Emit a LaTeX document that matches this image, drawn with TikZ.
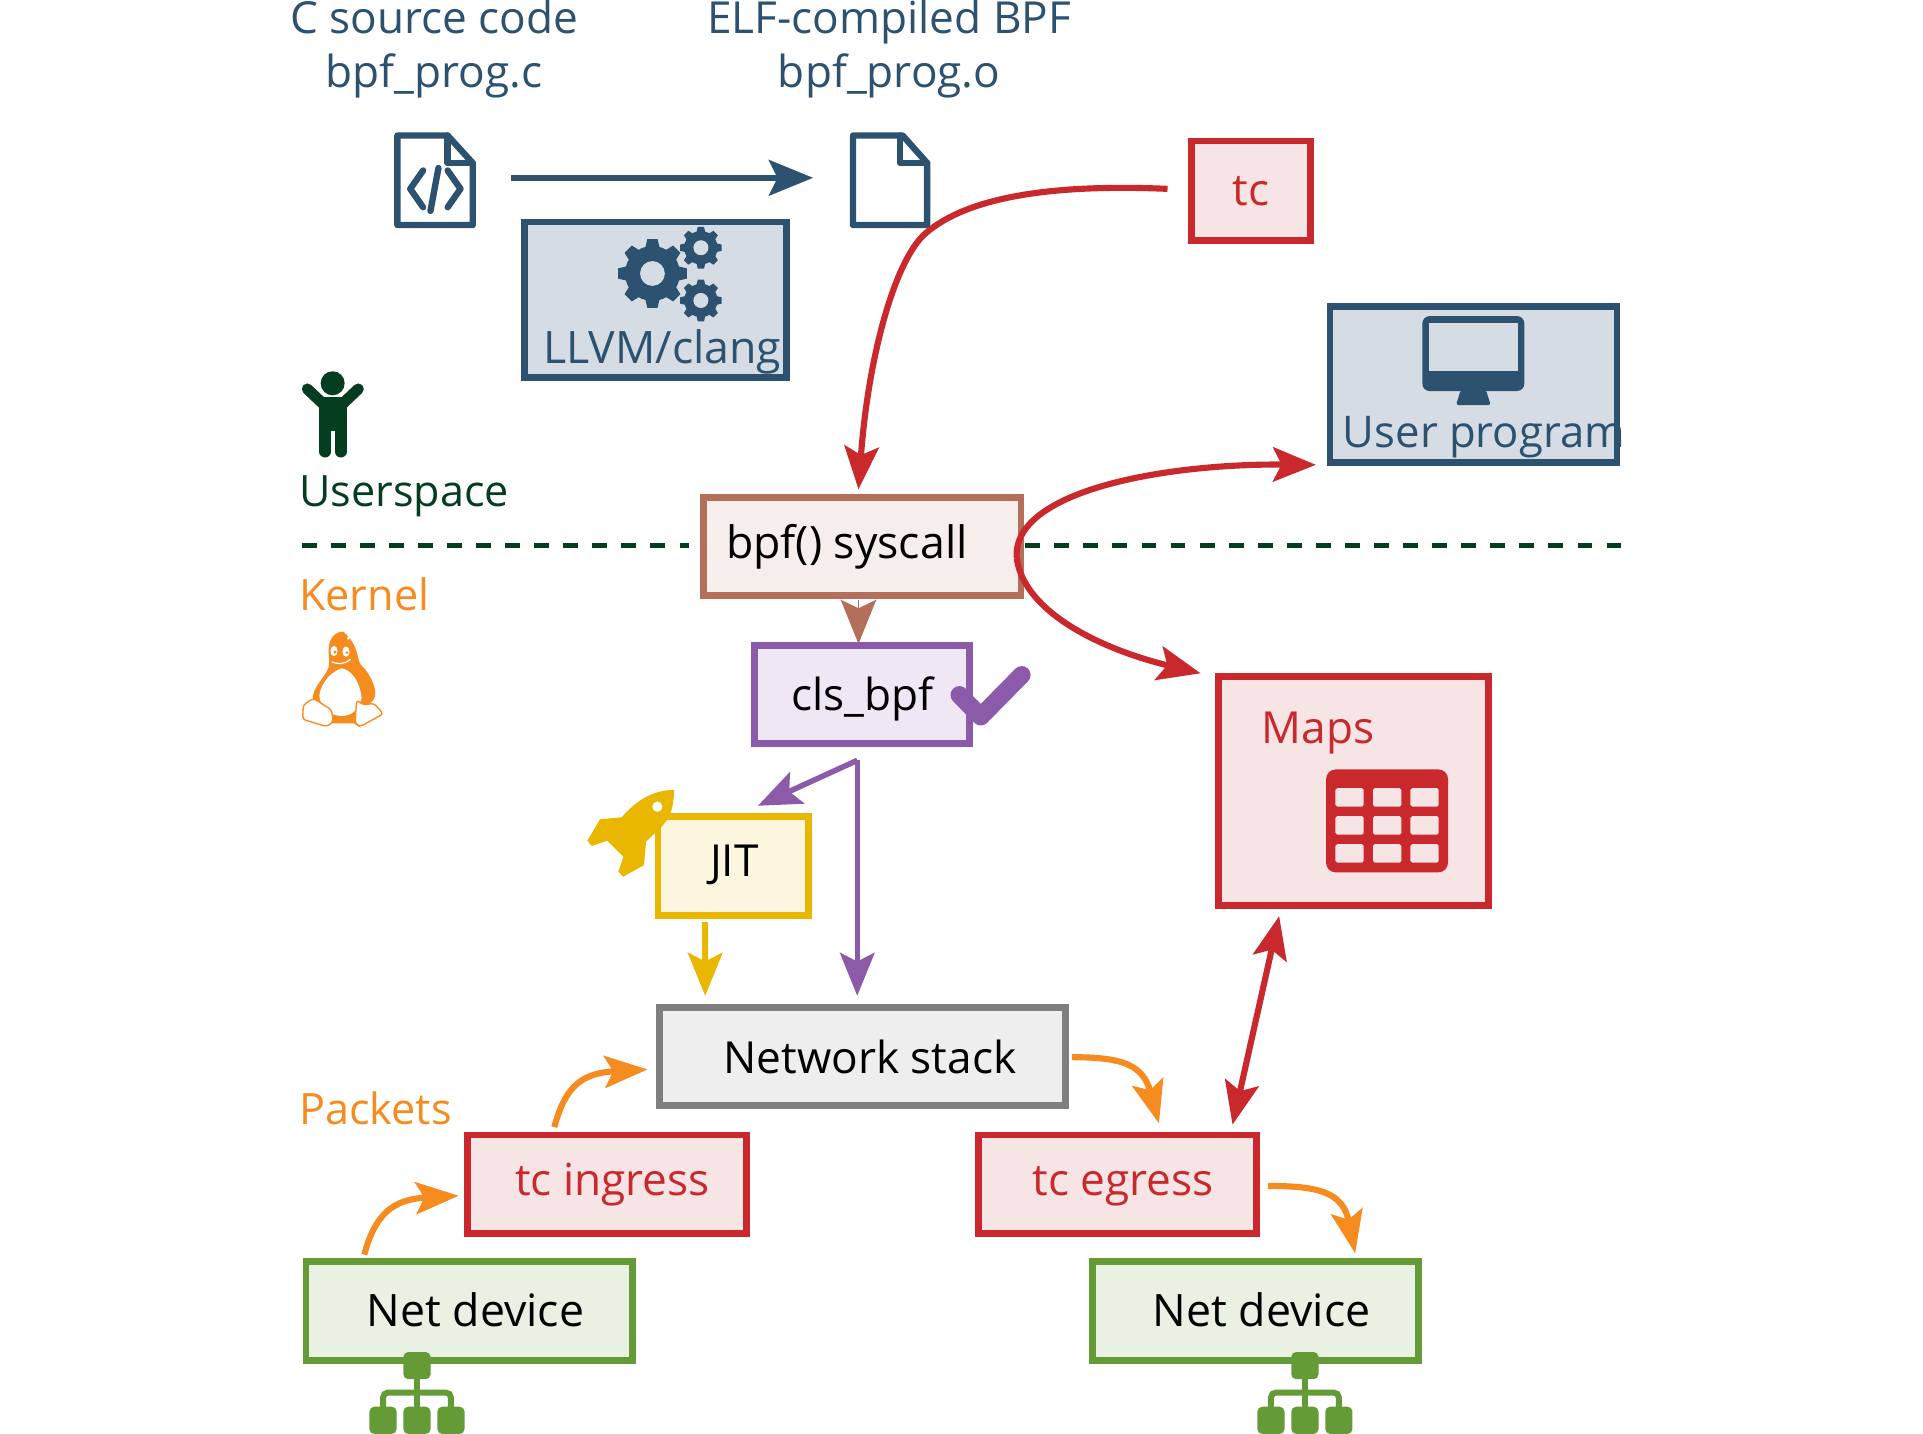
\documentclass[tikz,border=0pt]{standalone}
\usepackage{fontspec}
\setmainfont{Open Sans}
\usetikzlibrary{arrows.meta}
\definecolor{navy}{HTML}{2C5270}
\definecolor{navyf}{HTML}{D5DCE3}
\definecolor{redc}{HTML}{C9282D}
\definecolor{redf}{HTML}{F7E4E4}
\definecolor{brownc}{HTML}{B46F5A}
\definecolor{brownf}{HTML}{F6EEEB}
\definecolor{purp}{HTML}{8B5AA8}
\definecolor{purpf}{HTML}{EFE8F4}
\definecolor{yel}{HTML}{EAB700}
\definecolor{yelf}{HTML}{FCF6DF}
\definecolor{grayc}{HTML}{7F7F7F}
\definecolor{grayf}{HTML}{EEEEEE}
\definecolor{grn}{HTML}{649B37}
\definecolor{grnf}{HTML}{E9F1E3}
\definecolor{orng}{HTML}{F68B1F}
\definecolor{dgrn}{HTML}{053D21}
\tikzset{
  box/.style n args={2}{draw=#1,fill=#2,line width=5.6pt,inner sep=0pt,outer sep=0pt},
  txt/.style={inner sep=0pt,outer sep=0pt,font=\fontsize{36}{43}\selectfont},
  txtb/.style={inner sep=0pt,outer sep=0pt,font=\fontsize{36.4}{43}\selectfont},
  txts/.style={inner sep=0pt,outer sep=0pt,font=\fontsize{35.2}{42}\selectfont},
  tl/.style={txt,anchor=base west},
  tlb/.style={txtb,anchor=base west},
  tls/.style={txts,anchor=base west},
  tc/.style={txt,anchor=base},
  gearico/.pic={
    \foreach \a in {0,45,...,315}
      \fill[rotate=\a] ({.70*#1},{-.22*#1}) -- (#1,{-.15*#1}) -- (#1,{.15*#1}) -- ({.70*#1},{.22*#1}) -- cycle;
    \fill (0,0) circle ({.80*#1});
    \fill[navyf] (0,0) circle ({.36*#1});
  },
  netico/.pic={
    \fill[rounded corners=4pt] (-11.1,-11.1) rectangle (11.1,11.1);
    \fill[rounded corners=4pt] (-38.8,33.5) rectangle (-16.6,55.7);
    \fill[rounded corners=4pt] (-11.1,33.5) rectangle (11.1,55.7);
    \fill[rounded corners=4pt] (16.6,33.5) rectangle (38.8,55.7);
    \draw[line width=4.9pt] (0,10) -- (0,40);
    \draw[line width=4.9pt,rounded corners=4pt] (-27.7,40) -- (-27.7,22) -- (27.7,22) -- (27.7,40);
  },
  arrN/.style={-{Stealth[length=36pt,width=29pt,inset=7pt]}},
  arrR/.style={line width=5pt,draw=redc,{Stealth[length=35pt,width=28pt,inset=7pt]}-{Stealth[length=35pt,width=28pt,inset=7pt]}},
  arrRs/.style={line width=5pt,draw=redc,-{Stealth[length=35pt,width=28pt,inset=7pt]}},
  arrO/.style={line width=5pt,draw=orng,-{Stealth[length=35pt,width=26pt,inset=7pt]}},
}
\begin{document}
\begin{tikzpicture}[x=1pt,y=-1pt]
\useasboundingbox (0,0) rectangle (1568,1169);

% boxes
\node[box={navy}{navyf},minimum width=213pt,minimum height=127pt] (llvm) at (534.5,244.5) {};
\node[box={redc}{redf},minimum width=97pt,minimum height=81pt,txt,text=redc] (tcbox) at (1020,155.5) {tc};
\node[box={navy}{navyf},minimum width=234pt,minimum height=127pt] (user) at (1201.5,313.5) {};
\node[box={brownc}{brownf},minimum width=259pt,minimum height=80pt] (sys) at (703,445.5) {};
\node[box={purp}{purpf},minimum width=175pt,minimum height=80pt] (cls) at (703,566.5) {};
\node[box={yel}{yelf},minimum width=123pt,minimum height=81pt] (jit) at (598,706) {};
\node[box={grayc}{grayf},minimum width=331pt,minimum height=80pt] (net) at (703,861.5) {};
\node[box={redc}{redf},minimum width=227pt,minimum height=80pt] (ing) at (495,965.5) {};
\node[box={redc}{redf},minimum width=227pt,minimum height=80pt] (egr) at (911,965.5) {};
\node[box={redc}{redf},minimum width=220pt,minimum height=187pt] (maps) at (1103.5,645) {};
\node[box={grn}{grnf},minimum width=266pt,minimum height=81pt] (nd1) at (382.5,1069) {};
\node[box={grn}{grnf},minimum width=266pt,minimum height=81pt] (nd2) at (1023.5,1069) {};

% labels
\node[tc,text=navy] (srcA) at (354,27) {C source code};
\node[tc,text=navy] (srcB) at (354,71) {bpf\_prog.c};
\node[tc,text=navy] (elfA) at (725,27) {ELF-compiled BPF};
\node[tc,text=navy] (elfB) at (725,71) {bpf\_prog.o};
\node[tlb,text=navy] (llvmT) at (443,296) {LLVM/clang};
\node[tl,text=navy,font=\fontsize{35.6}{43}\selectfont] (userT) at (1095,365) {User program};
\node[tlb,text=black] (sysT) at (592,455) {bpf() syscall};
\node[tl,text=black] (netT) at (590,875) {Network stack};
\node[tl,text=redc] (ingT) at (420,975) {tc ingress};
\node[tl,text=redc] (egrT) at (842,975) {tc egress};
\node[tl,text=redc] (mapsT) at (1029,606) {Maps};
\node[tlb,text=black] (nd1T) at (299,1082) {Net device};
\node[tlb,text=black] (nd2T) at (940,1082) {Net device};
\node[tl,text=black] (clsT) at (645,579) {cls\_bpf};
\node[tl,text=black] (jitT) at (579,715) {JIT};
\node[tls,text=dgrn] (usp) at (244,413) {Userspace};
\node[tls,text=orng] (krn) at (244,498) {Kernel};
\node[tls,text=orng] (pkt) at (244,917) {Packets};

% file icons
\begin{scope}[draw=navy,line width=5.2pt,line join=round,line cap=round]
  \draw (324,110.5) -- (365,110.5) -- (385.5,133) -- (385.5,183.5) -- (324,183.5) -- cycle;
  \draw (365,110.5) -- (365,133) -- (385.5,133);
  \draw (345,139) -- (334.5,154) -- (345,169);
  \draw (357.5,137) -- (351,172);
  \draw (365,139) -- (375.5,154) -- (365,169);
  \draw (695.5,110.5) -- (736,110.5) -- (756,133) -- (756,183.5) -- (695.5,183.5) -- cycle;
  \draw (734,110.5) -- (734,133) -- (756,133);
\end{scope}

% gears
\begin{scope}[fill=navy]
  \pic at (532,223) {gearico=28};
  \pic at (571.5,202) {gearico=17};
  \pic at (571.5,245) {gearico=17};
\end{scope}

% monitor
\begin{scope}[shift={(1060,236.5)},x=.2718pt,y=-.2718pt]
  \fill[navy,rounded corners=6pt] (367,78) rectangle (673,303);
  \fill[navyf] (387,98) rectangle (655,242);
  \fill[navy,rounded corners=2pt] (482,300) -- (468,345) -- (572,345) -- (558,300) -- cycle;
\end{scope}

% table
\begin{scope}[shift={(978.5,538.2)},x=.2718pt,y=-.2718pt]
  \fill[redc,rounded corners=8pt] (378,328) rectangle (744,637);
  \foreach \cx in {406,519,631} \foreach \cy in {384,468,552}
    \fill[redf,rounded corners=1.5pt] (\cx,\cy) rectangle ++(85,56);
\end{scope}

% person
\begin{scope}[shift={(228.3,293.5)},x=.2718pt,y=-.2718pt]
  \fill[dgrn] (158,70) circle (9.8pt);
  \draw[dgrn,line width=9pt,line cap=round] (82,87) -- (140,142);
  \draw[dgrn,line width=9pt,line cap=round] (235,87) -- (177,142);
  \fill[dgrn] (118,112) rectangle (200,212);
  \draw[dgrn,line width=9.6pt,line cap=round] (135.5,205) -- (135.5,275);
  \draw[dgrn,line width=9.6pt,line cap=round] (182,205) -- (182,275);
\end{scope}

% penguin
\begin{scope}[shift={(228.3,293.5)},x=.2718pt,y=-.2718pt]
  \fill[orng] (190,815) .. controls (165,815) and (146,835) .. (146,870)
    .. controls (146,900) and (152,915) .. (140,935)
    .. controls (122,965) and (100,985) .. (98,1015) -- (150,1090) -- (225,1090) -- (235,1030)
    .. controls (250,1040) and (270,1035) .. (280,1020)
    .. controls (298,1000) and (272,940) .. (243,915)
    .. controls (228,895) and (240,860) .. (190,815) -- cycle;
  \fill[white] (118,1005) .. controls (125,965) and (155,935) .. (185,925)
    .. controls (215,930) and (240,965) .. (245,1015)
    .. controls (235,1050) and (215,1068) .. (185,1068)
    .. controls (150,1068) and (118,1040) .. (118,1005) -- cycle;
  \fill[white] (162,873) ellipse (2.9pt and 4.2pt);
  \fill[white] (198,875) ellipse (2.9pt and 4.2pt);
  \fill[orng] (165,876) circle (1.3pt);
  \fill[orng] (201,878) circle (1.3pt);
  \fill[white] (205,835) circle (1.2pt);
  \draw[white,line width=1pt] (155,905) .. controls (175,915) and (195,912) .. (212,898);
  \filldraw[draw=orng,fill=white,line width=1.1pt,rounded corners=2.5pt] (100,1015) -- (70,1035) -- (68,1078) -- (140,1100) -- (160,1085) -- (155,1050) -- cycle;
  \filldraw[draw=orng,fill=white,line width=1.1pt,rounded corners=2.5pt] (230,1020) -- (250,1035) -- (282,1030) -- (310,1062) -- (240,1100) -- (225,1090) -- cycle;
\end{scope}

% rocket and check
\begin{scope}[shift={(464.8,489.2)},x=.2718pt,y=-.2718pt]
  \fill[yel,line join=round] (312,570) .. controls (250,570) and (200,600) .. (155,652)
    -- (90,658) -- (52,722) -- (65,738) -- (112,722) -- (160,770) -- (145,815) -- (160,830)
    -- (222,795) -- (228,725) -- (275,680) -- (295,655) .. controls (308,625) and (312,600) .. (312,570) -- cycle;
  \fill[white] (262,620) circle (4.2pt);
  \draw[purp,line width=14.5pt,line cap=round,line join=round] (1168,285) -- (1232,350) -- (1355,225);
\end{scope}

% net icons
\begin{scope}[fill=grn,draw=grn]
  \pic at (340,1113.5) {netico};
  \pic at (1064,1113.5) {netico};
\end{scope}

% dashed separators
\coordinate (dashL) at (246,445);
\coordinate (dashLe) at (562,445);
\coordinate (dashR) at (836,445);
\coordinate (dashRe) at (1322,445);
\draw[dgrn,line width=4pt,dash pattern=on 12.1pt off 11.6pt] (dashL) -- (dashLe);
\draw[dgrn,line width=4pt,dash pattern=on 12.1pt off 11.6pt] (dashR) -- (dashRe);

% connectors
\coordinate (a1) at (417,145);
\coordinate (a2) at (663,145);
\draw[navy,line width=5pt,arrN] (a1) -- (a2);

\coordinate (tcOut) at (952,154);
\coordinate (sysIn) at (700,399);
\draw[arrRs] (tcOut) .. controls (860,150) and (790,160) .. (755,190) .. controls (730,211) and (708,290) .. (sysIn);

\coordinate (userIn) at (1073,379);
\coordinate (mapsIn) at (979,549);
\coordinate (bend) at (829,455);
\draw[arrRs] (bend) .. controls (825,400) and (950,378) .. (userIn);
\draw[arrRs] (bend) .. controls (835,500) and (900,530) .. (mapsIn);

\coordinate (brA) at (700,489);
\coordinate (brB) at (700,525);
\draw[brownc,line width=1pt,-{Stealth[length=36pt,width=29pt,inset=7pt]}] (brA) -- (brB);

\coordinate (pOrig) at (699,620);
\coordinate (pJit) at (618,657);
\coordinate (pNet) at (699,812);
\draw[purp,line width=4.5pt,-{Stealth[length=35pt,width=28pt,inset=7pt]},line join=miter] (pOrig) -- (pJit);
\draw[purp,line width=4.5pt,-{Stealth[length=35pt,width=28pt,inset=7pt]}] (pOrig) -- (pNet);

\coordinate (yA) at (575,752);
\coordinate (yB) at (575,812);
\draw[yel,line width=5pt,-{Stealth[length=35pt,width=28pt,inset=7pt]}] (yA) -- (yB);

\coordinate (o1a) at (297,1023);
\coordinate (o1b) at (374,975);
\draw[arrO] (o1a) .. controls (306,990) and (320,978) .. (o1b);
\coordinate (o2a) at (452,919);
\coordinate (o2b) at (528,872);
\draw[arrO] (o2a) .. controls (461,885) and (475,875) .. (o2b);
\coordinate (o3a) at (874,862);
\coordinate (o3b) at (945,916);
\draw[arrO] (o3a) .. controls (915,862) and (932,868) .. (o3b);
\coordinate (o4a) at (1034,967);
\coordinate (o4b) at (1105,1022);
\draw[arrO] (o4a) .. controls (1075,967) and (1095,972) .. (o4b);

\coordinate (dA) at (1005,917);
\coordinate (dB) at (1043,747);
\draw[arrR] (dA) -- (dB);
\end{tikzpicture}
\end{document}
